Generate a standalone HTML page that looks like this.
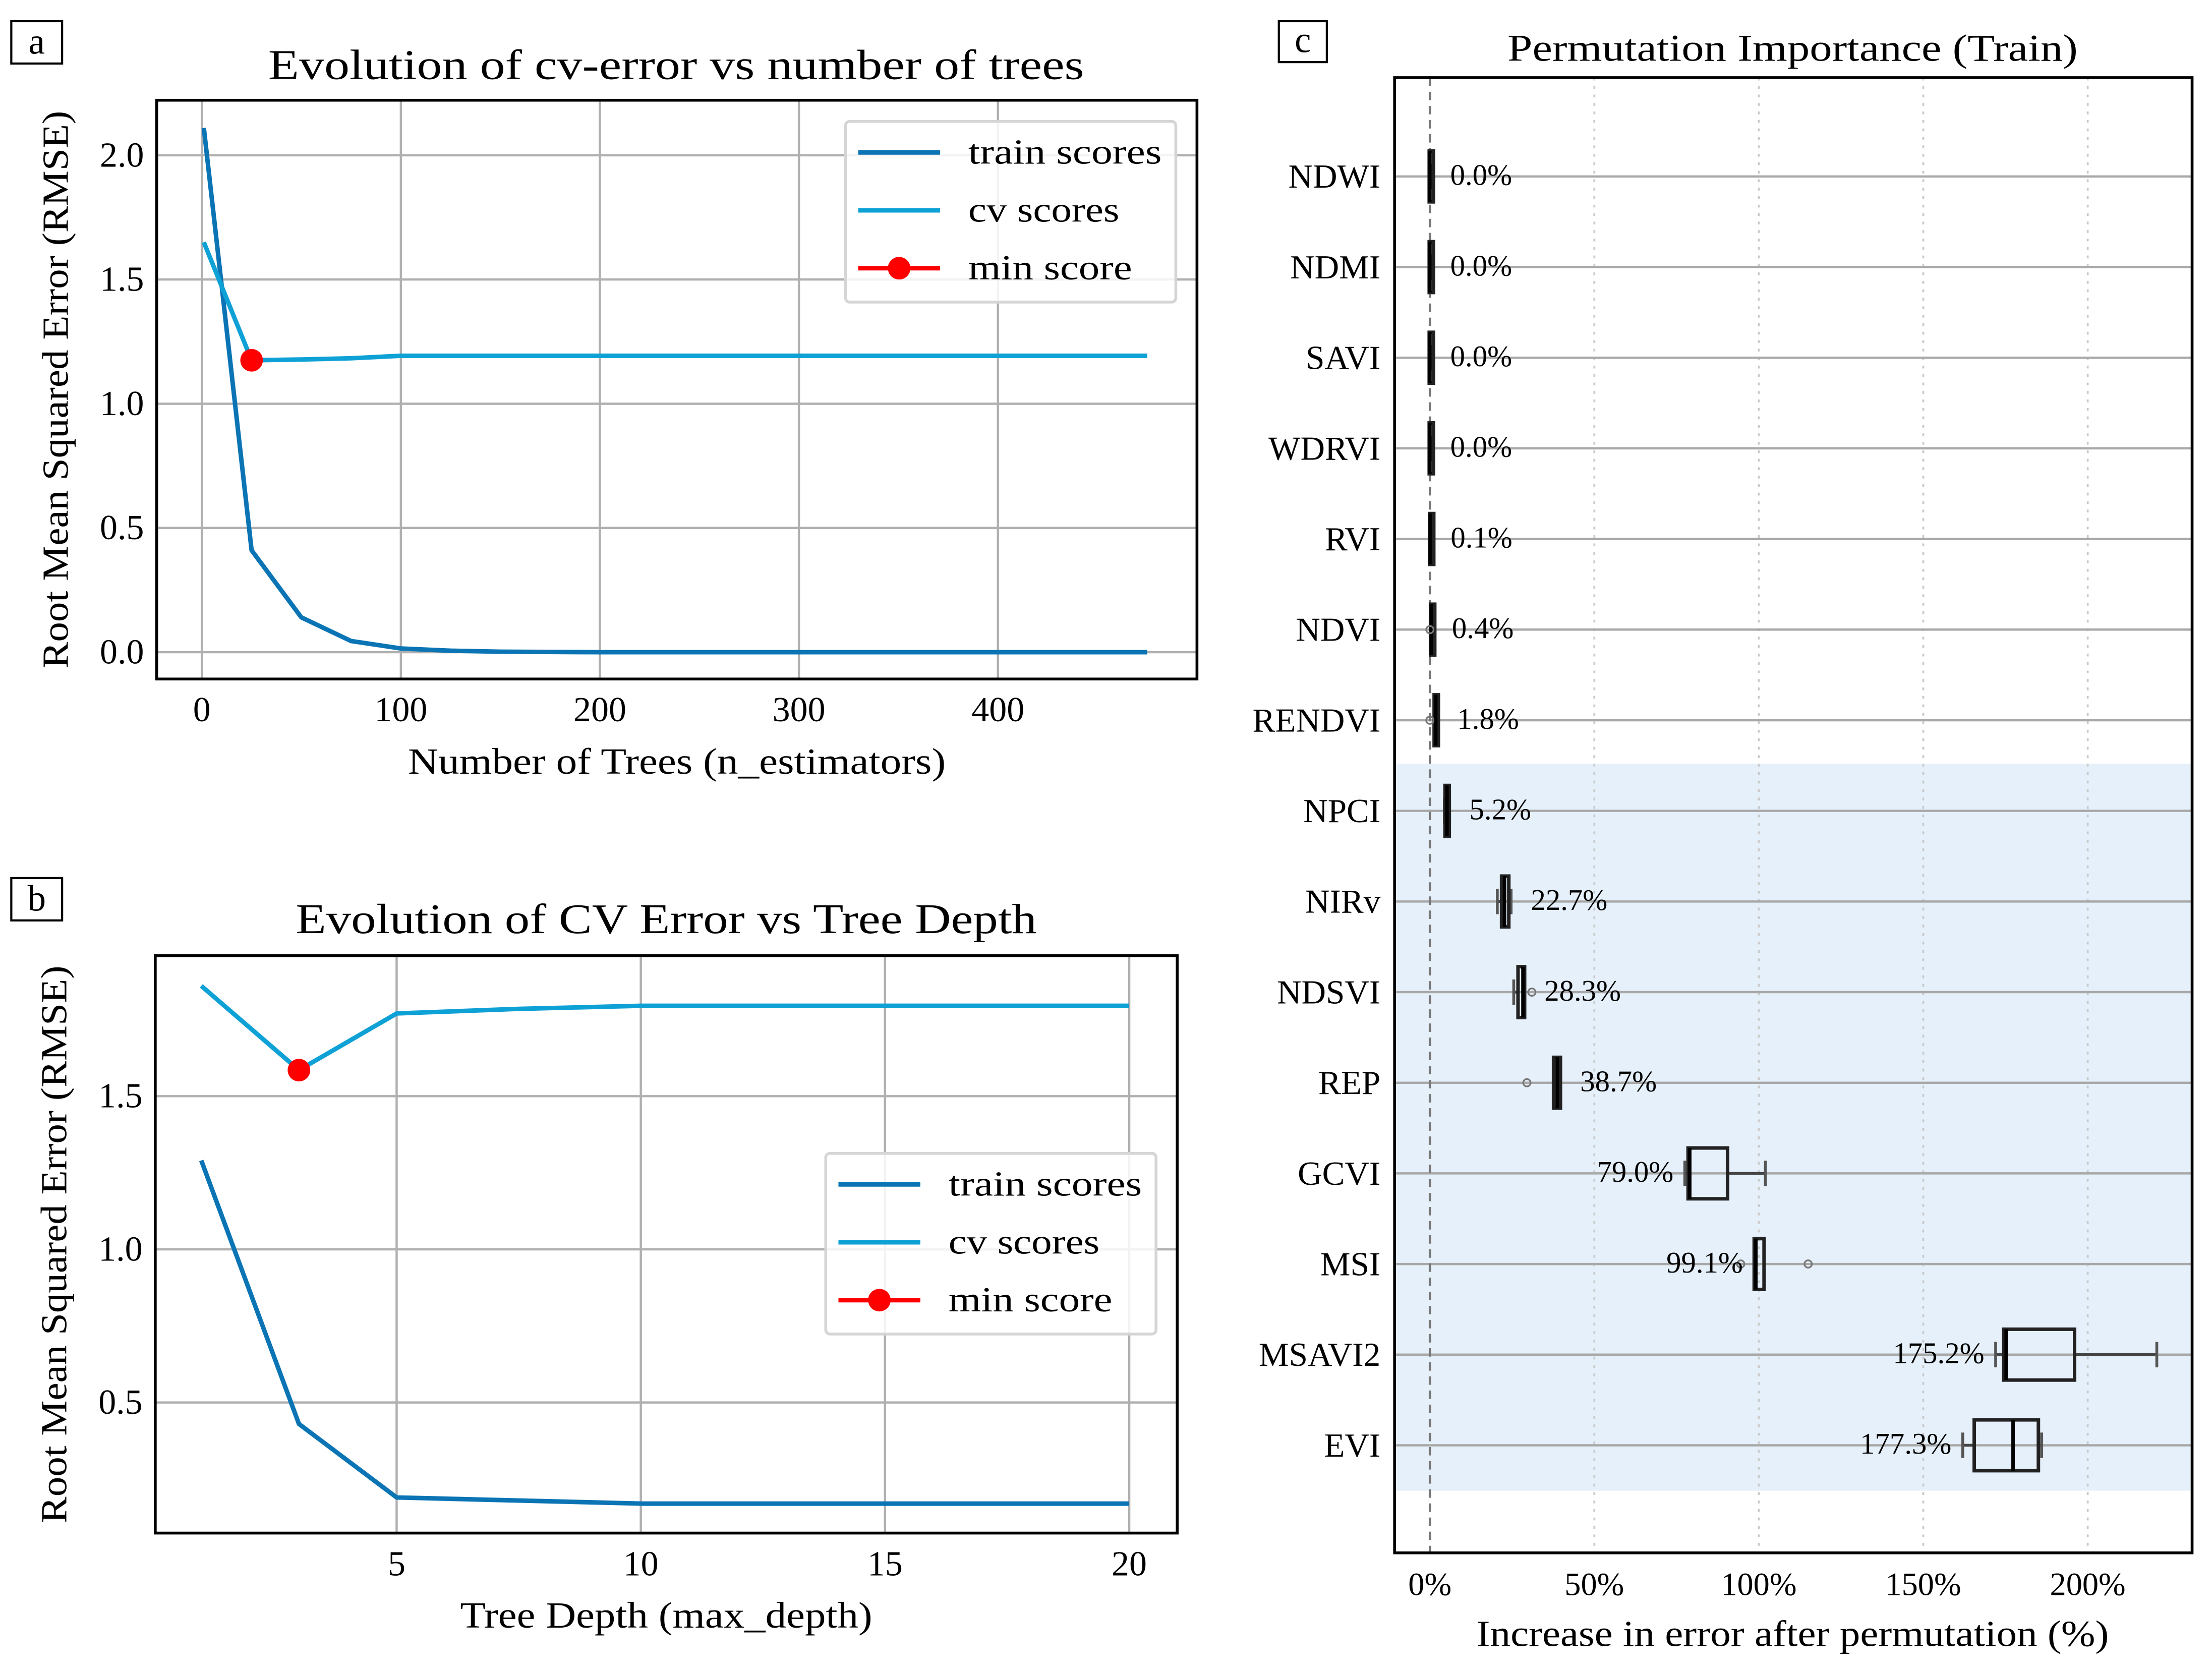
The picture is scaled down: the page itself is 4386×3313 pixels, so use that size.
<!DOCTYPE html>
<html><head><meta charset="utf-8"><style>
html,body{margin:0;padding:0;background:#fff}
svg{display:block}
text{font-family:"Liberation Serif",serif;fill:#000}
</style></head><body>
<svg id="fig" width="4386" height="3313" viewBox="0 0 1567.1 1183.7" preserveAspectRatio="none" xmlns="http://www.w3.org/2000/svg">
</svg>
<script>
// Panel a data
const aTrees=[1,25,50,75,100,125,150,200,300,400,475];
const aTrain=[2.11,0.41,0.14,0.045,0.015,0.006,0.002,0.0,0.0,0.0,0.0];
const aCvTrees=[1,25,50,75,100,150,200,300,400,475];
const aCv=[1.65,1.175,1.178,1.183,1.193,1.193,1.193,1.193,1.193,1.193];
const aMin=[25,1.175];
const aXTicks=[0,100,200,300,400];
const aYTicks=[0.0,0.5,1.0,1.5,2.0];
// Panel b data
const bDepth=[1,3,5,7.5,10,15,20];
const bTrain=[1.29,0.43,0.19,0.18,0.17,0.17,0.17];
const bCv=[1.86,1.585,1.77,1.785,1.795,1.795,1.795];
const bMin=[3,1.585];
const bXTicks=[5,10,15,20];
const bYTicks=[0.5,1.0,1.5];
// Panel c data
const cNames=["NDWI","NDMI","SAVI","WDRVI","RVI","NDVI","RENDVI","NPCI","NIRv","NDSVI","REP","GCVI","MSI","MSAVI2","EVI"];
const cMedian=[0.0,0.0,0.0,0.0,0.1,0.4,1.8,5.2,22.7,28.3,38.7,79.0,99.1,175.2,177.3];
const cQ1=[-0.2,-0.2,-0.2,-0.2,-0.1,0.2,1.3,4.6,21.8,26.8,37.6,78.5,98.6,174.5,165.5];
const cQ3=[0.2,0.2,0.2,0.2,0.3,0.7,2.3,5.8,24.0,28.8,39.7,90.5,101.6,196.0,185.0];
const cWLo=[-0.2,-0.2,-0.2,-0.2,-0.1,0.2,1.3,4.4,20.5,25.5,37.6,77.5,98.6,172.0,162.0];
const cWHi=[0.2,0.2,0.2,0.2,0.3,0.7,2.3,6.0,24.7,28.8,39.7,102.0,101.6,221.0,186.0];
const cOutliers=[[],[],[],[],[],[0.0],[0.0],[],[],[31.0],[29.5],[],[94.5,115.0],[],[]];
const cLabels=["0.0%","0.0%","0.0%","0.0%","0.1%","0.4%","1.8%","5.2%","22.7%","28.3%","38.7%","79.0%","99.1%","175.2%","177.3%"];
const cXTicks=[0,50,100,150,200];
const cXTickLabels=["0%","50%","100%","150%","200%"];

const NS="http://www.w3.org/2000/svg";
const svg=document.getElementById('fig');
function el(tag,attrs,parent,txt){const e=document.createElementNS(NS,tag);for(const k in attrs)e.setAttribute(k,attrs[k]);if(txt!==undefined)e.textContent=txt;(parent||svg).appendChild(e);return e;}
function fit(e,len){e.setAttribute('textLength',len);e.setAttribute('lengthAdjust','spacingAndGlyphs');}
const TRAIN="#0a74b4", CV="#0ea1d6";

function linePanel(o){
  const g=el('g',{});
  
  
  const X=v=>o.x0+(v-o.xv0)*o.xs, Y=v=>o.y0-(v-o.yv0)*o.ys;
  el('rect',{x:o.L,y:o.T,width:o.R-o.L,height:o.B-o.T,fill:'#fff'},g);
  o.xt.forEach(t=>{
    const l=el('line',{x1:X(t),x2:X(t),y1:o.T,y2:o.B,stroke:'#b0b0b0','stroke-width':1.6},g);
    
    const tx=el('text',{x:X(t),y:o.B+30,'text-anchor':'middle','font-size':25},g,String(t));
    
  });
  o.yt.forEach(t=>{
    const l=el('line',{x1:o.L,x2:o.R,y1:Y(t),y2:Y(t),stroke:'#b0b0b0','stroke-width':1.6},g);
    
    const tx=el('text',{x:o.L-9,y:Y(t)+8,'text-anchor':'end','font-size':25},g,t.toFixed(1));
    
  });
  const p1=el('polyline',{points:o.trX.map((v,i)=>X(v)+','+Y(o.tr[i])).join(' '),fill:'none',stroke:TRAIN,'stroke-width':3.2,'stroke-linejoin':'round'},g);
  
  const p2=el('polyline',{points:o.cvX.map((v,i)=>X(v)+','+Y(o.cv[i])).join(' '),fill:'none',stroke:CV,'stroke-width':3.2,'stroke-linejoin':'round'},g);
  
  const m=el('circle',{cx:X(o.min[0]),cy:Y(o.min[1]),r:8,fill:'#ff0000'},g);
  
  el('rect',{x:o.L,y:o.T,width:o.R-o.L,height:o.B-o.T,fill:'none',stroke:'#000','stroke-width':2},g);
  const lg=el('g',{},g);
  
  el('rect',{x:o.lx,y:o.ly,width:234,height:128,fill:'#fff','fill-opacity':0.85,stroke:'#d5d5d5','stroke-width':2,rx:3},lg);
  const items=[["train scores",TRAIN,false,137],["cv scores",CV,false,107],["min score","#ff0000",true,116]];
  items.forEach((it,i)=>{
    const yy=o.ly+22+i*41;
    const e=el('g',{},lg);
    
    el('line',{x1:o.lx+9,x2:o.lx+67,y1:yy,y2:yy,stroke:it[1],'stroke-width':3.2},e);
    if(it[2])el('circle',{cx:o.lx+38,cy:yy,r:8,fill:'#ff0000'},e);
    const tt=el('text',{x:o.lx+87,y:yy+8,'font-size':25},e,it[0]);
    fit(tt,it[3]);
  });
  const t=el('text',{x:o.tx,y:o.ty,'text-anchor':'middle','font-size':30},g,o.title);
  fit(t,o.tw);
  
  const xl=el('text',{x:(o.L+o.R)/2,y:o.B+67,'text-anchor':'middle','font-size':26},g,o.xlabel);
  fit(xl,o.xw);
  
  const yl=el('text',{x:0,y:0,'text-anchor':'middle','font-size':26,transform:`translate(${o.L-63},${(o.T+o.B)/2}) rotate(-90)`},g,'Root Mean Squared Error (RMSE)');
  fit(yl,395);
  
  el('rect',{x:8,y:o.bT,width:36,height:30,fill:'#fff',stroke:'#000','stroke-width':1.5},g);
  const pl=el('text',{x:26,y:o.bT+23,'text-anchor':'middle','font-size':26},g,o.letter);
  
}

linePanel({name:'panel-a-trees',L:111,T:71,R:848,B:481,x0:143,xv0:0,xs:1.41,y0:462,yv0:0,ys:176,
  xt:aXTicks,yt:aYTicks,trX:aTrees,tr:aTrain,cvX:aCvTrees,cv:aCv,min:aMin,lx:599,ly:86,
  tx:479,ty:56,tw:578,title:'Evolution of cv-error vs number of trees',xlabel:'Number of Trees (n_estimators)',xw:381,bT:15,letter:'a'});
linePanel({name:'panel-b-depth',L:110,T:677,R:834,B:1086,x0:108,xv0:0,xs:34.6,y0:1102,yv0:0,ys:217,
  xt:bXTicks,yt:bYTicks,trX:bDepth,tr:bTrain,cvX:bDepth,cv:bCv,min:bMin,lx:585,ly:817,
  tx:472,ty:661,tw:525,title:'Evolution of CV Error vs Tree Depth',xlabel:'Tree Depth (max_depth)',xw:292,bT:622,letter:'b'});

(function(){
  const L=988,T=55,R=1553,B=1100;
  const X=v=>1013+v*2.3303, Y=i=>125+i*64.2;
  const g=el('g',{});
  
  const sh=el('rect',{x:L,y:541,width:R-L,height:515,fill:'#e6f0fa'},g);
  
  cXTicks.forEach((t,i)=>{
    if(t!==0){const l=el('line',{x1:X(t),x2:X(t),y1:T,y2:B,stroke:'#c8c8c8','stroke-width':1.3,'stroke-dasharray':'2,4'},g);
    }
    const tx=el('text',{x:X(t),y:B+30,'text-anchor':'middle','font-size':23},g,cXTickLabels[i]);
    
  });
  cNames.forEach((n,i)=>{
    const l=el('line',{x1:L,x2:R,y1:Y(i),y2:Y(i),stroke:'#a8a8a8','stroke-width':1.6},g);
    
    const tx=el('text',{x:978,y:Y(i)+8,'text-anchor':'end','font-size':24},g,n);
    
  });
  const z=el('line',{x1:X(0),x2:X(0),y1:T,y2:B,stroke:'#777','stroke-width':1.6,'stroke-dasharray':'6,4'},g);
  
  cNames.forEach((n,i)=>{
    const y=Y(i), h=18;
    const bx=el('g',{},g);
    
    el('line',{x1:X(cWLo[i]),x2:X(cQ1[i]),y1:y,y2:y,stroke:'#444','stroke-width':2},bx);
    el('line',{x1:X(cQ3[i]),x2:X(cWHi[i]),y1:y,y2:y,stroke:'#444','stroke-width':2},bx);
    el('line',{x1:X(cWLo[i]),x2:X(cWLo[i]),y1:y-9,y2:y+9,stroke:'#555','stroke-width':2},bx);
    el('line',{x1:X(cWHi[i]),x2:X(cWHi[i]),y1:y-9,y2:y+9,stroke:'#555','stroke-width':2},bx);
    const w=Math.max(X(cQ3[i])-X(cQ1[i]),3);
    el('rect',{x:X(cQ1[i]),y:y-h,width:w,height:2*h,fill:'none',stroke:'#222','stroke-width':2.5},bx);
    el('line',{x1:X(cMedian[i]),x2:X(cMedian[i]),y1:y-h,y2:y+h,stroke:'#000','stroke-width':2.5},bx);
    cOutliers[i].forEach(v=>el('circle',{cx:X(v),cy:y,r:2.6,fill:'none',stroke:'#777','stroke-width':1.2},bx));
    const right=cMedian[i]<50;
    const lx=right?X(cWHi[i])+14:X(cWLo[i])-8;
    const lt=el('text',{x:lx,y:y+6,'text-anchor':right?'start':'end','font-size':21},g,cLabels[i]);
    
  });
  el('rect',{x:L,y:T,width:R-L,height:B-T,fill:'none',stroke:'#000','stroke-width':2},g);
  const t=el('text',{x:1270,y:43,'text-anchor':'middle','font-size':27},g,'Permutation Importance (Train)');
  fit(t,404);
  
  const xl=el('text',{x:1270,y:1166,'text-anchor':'middle','font-size':26},g,'Increase in error after permutation (%)');
  fit(xl,448);
  
  el('rect',{x:906,y:15,width:34,height:29,fill:'#fff',stroke:'#000','stroke-width':1.5},g);
  const pl=el('text',{x:923,y:37,'text-anchor':'middle','font-size':26},g,'c');
  
})();
</script>
</body></html>
